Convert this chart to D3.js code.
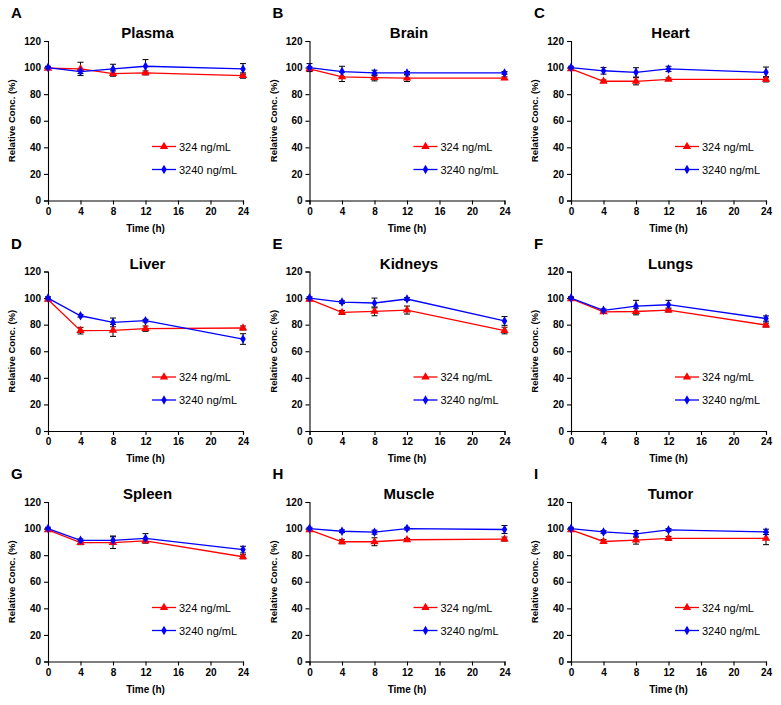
<!DOCTYPE html>
<html><head><meta charset="utf-8">
<script src="https://cdn.jsdelivr.net/npm/d3@7"></script>
<style>
html,body{margin:0;padding:0;background:#fff;}
svg{display:block;font-family:"Liberation Sans",Arial,sans-serif;}
</style></head>
<body>
<svg id="chart" width="781" height="705"></svg>
<script>
const letters = ["A","B","C","D","E","F","G","H","I"];
const tissues = ["Plasma","Brain","Heart","Liver","Kidneys","Lungs","Spleen","Muscle","Tumor"];
const times = [0, 4, 8, 12, 24];
const xTicks = [0, 4, 8, 12, 16, 20, 24];
const yTicks = [0, 20, 40, 60, 80, 100, 120];
const seriesNames = ["324 ng/mL", "3240 ng/mL"];

// 324 ng/mL
const low = [
  [99.5, 99, 95.5, 96, 94],
  [99, 93, 92.5, 92, 92],
  [99, 89.7, 89.7, 91.2, 91.2],
  [99, 75.5, 75.7, 77, 77.5],
  [99, 89.2, 90, 91, 75.6],
  [99.5, 89.6, 89.9, 91, 79.7],
  [99, 89.4, 89.4, 90.7, 78.8],
  [99, 90.1, 90.1, 91.6, 92.1],
  [99, 90.3, 91.3, 92.6, 92.6]
];
const lowErr = [
  [1, 5, 2, 1.5, 2],
  [1.5, 3.5, 2.5, 2.5, 1],
  [1, 1, 2.7, 1, 2],
  [1, 2.5, 4.5, 2, 1.5],
  [1, 1.5, 3.3, 3, 2.5],
  [1, 1, 2.5, 1.5, 1.5],
  [1, 1.5, 4.4, 1.5, 1.5],
  [1, 1.5, 3, 1, 1.5],
  [1, 1.5, 3, 1.5, 4.7]
];
// 3240 ng/mL
const high = [
  [100, 97, 99, 101, 99],
  [100, 97, 96, 96, 96],
  [100, 97.6, 96.4, 99, 96.4],
  [100, 86.7, 81.7, 83, 69.2],
  [100, 97, 96.3, 99.3, 82.8],
  [100, 90.8, 94, 95, 84.6],
  [100, 91.2, 91.2, 92.7, 84.2],
  [100, 98, 97.3, 100, 99.3],
  [100, 97.5, 96, 99, 97.5]
];
const highErr = [
  [1, 1.5, 3.5, 5, 4],
  [3, 4, 2, 1, 1],
  [1, 2.5, 3.5, 2, 4],
  [1, 1, 3.3, 1, 4],
  [1, 1, 3.7, 1, 3.3],
  [1, 1, 4.3, 3.3, 2],
  [1, 1, 3.2, 3.5, 2.5],
  [1, 1, 1.5, 1, 3],
  [1, 1, 2.5, 1, 2]
];

const colors = ["#ff0000", "#0000ff"];
const svg = d3.select("#chart");
const W = 195, H = 159.5;

const triangle = d3.symbol().type(d3.symbolTriangle).size(30);
const diamond = d3.symbol().type(d3.symbolDiamond).size(26);
const shapes = [triangle, diamond];

tissues.forEach((name, i) => {
  const col = i % 3, row = Math.floor(i / 3);
  const x0 = 48 + col * 261.5;
  const y0 = 41 + row * 230.5;
  const g = svg.append("g").attr("transform", `translate(${x0},${y0})`);
  const x = d3.scaleLinear().domain([0, 24]).range([0, W]);
  const y = d3.scaleLinear().domain([0, 120]).range([H, 0]);

  // axes
  const ya = g.append("g").call(d3.axisLeft(y).tickValues(yTicks).tickSize(4).tickPadding(3));
  const xa = g.append("g").attr("transform", `translate(0,${H})`)
    .call(d3.axisBottom(x).tickValues(xTicks).tickSize(4).tickPadding(3));
  [ya, xa].forEach(a => {
    a.selectAll("path,line").attr("stroke", "#000").attr("stroke-width", 1.1);
    a.selectAll("text").attr("font-size", 10).attr("font-weight", "bold").attr("fill", "#000")
      .attr("font-family", '"Liberation Sans",Arial,sans-serif');
  });

  // labels
  svg.append("text").attr("x", x0 - 37).attr("y", y0 - 23)
    .attr("font-size", 15).attr("font-weight", "bold").text(letters[i]);
  g.append("text").attr("x", W / 2 + 2).attr("y", -3).attr("text-anchor", "middle")
    .attr("font-size", 15).attr("font-weight", "bold").text(name);
  g.append("text").attr("x", W / 2).attr("y", H + 31).attr("text-anchor", "middle")
    .attr("font-size", 10).attr("font-weight", "bold").text("Time (h)");
  g.append("text").attr("transform", `translate(-33,${H / 2}) rotate(-90)`)
    .attr("text-anchor", "middle").attr("font-size", 9.5).attr("font-weight", "bold")
    .text("Relative Conc. (%)");

  const sets = [[low[i], lowErr[i]], [high[i], highErr[i]]];
  // error bars
  sets.forEach(([vals, errs]) => {
    const eg = g.append("g").attr("stroke", "#000").attr("stroke-width", 1);
    times.forEach((t, k) => {
      const cx = x(t), top = y(vals[k] + errs[k]), bot = y(vals[k] - errs[k]);
      eg.append("line").attr("x1", cx).attr("x2", cx).attr("y1", top).attr("y2", bot);
      eg.append("line").attr("x1", cx - 3).attr("x2", cx + 3).attr("y1", top).attr("y2", top);
      eg.append("line").attr("x1", cx - 3).attr("x2", cx + 3).attr("y1", bot).attr("y2", bot);
    });
  });
  // lines & markers
  const line = d3.line().x((d, k) => x(times[k])).y(d => y(d));
  sets.forEach(([vals], s) => {
    g.append("path").datum(vals).attr("d", line).attr("fill", "none")
      .attr("stroke", colors[s]).attr("stroke-width", 1.3);
    g.selectAll(null).data(vals).enter().append("path")
      .attr("d", shapes[s]).attr("fill", colors[s])
      .attr("transform", (d, k) => `translate(${x(times[k])},${y(d)})`);
  });

  // legend
  seriesNames.forEach((lab, s) => {
    const ly = H - 54 + s * 23;
    const lg = g.append("g").attr("transform", `translate(104,${ly})`);
    lg.append("line").attr("x1", 0).attr("x2", 24).attr("stroke", colors[s]).attr("stroke-width", 1.3);
    lg.append("path").attr("d", shapes[s]).attr("fill", colors[s]).attr("transform", "translate(12,0)");
    lg.append("text").attr("x", 27).attr("y", 4).attr("font-size", 11).text(lab);
  });
});
</script>
</body></html>
